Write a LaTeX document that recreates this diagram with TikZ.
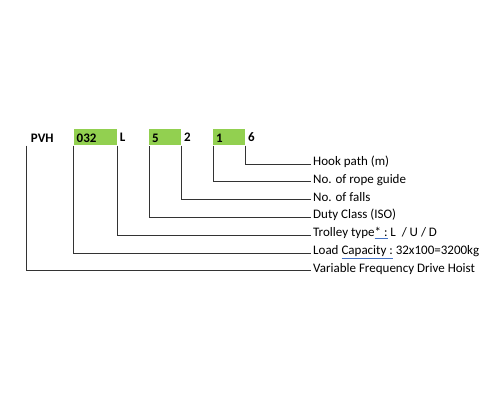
\documentclass[tikz,border=0pt]{standalone}
\usepackage{fontspec}
\setmainfont{Carlito}
\usetikzlibrary{positioning}
\definecolor{boxgreen}{RGB}{146,208,80}
\definecolor{markblue}{RGB}{68,114,196}
\newcommand{\wordmark}[1]{{\color{markblue}\underline{\color{black}#1}}}

\begin{document}
\begin{tikzpicture}[x=1pt, y=1pt, font=\fontsize{13}{15}\selectfont,
	codebox/.style={fill=boxgreen, anchor=south west, align=left, font=\fontsize{13}{15}\selectfont\bfseries,
		inner xsep=3pt, inner ysep=0pt, text height=12.8pt, text depth=3.2pt},
	codetxt/.style={anchor=base west, font=\fontsize{13}{15}\selectfont\bfseries,
		inner xsep=4pt, inner ysep=3.2pt, text depth=0pt},
	desc/.style={anchor=base west, inner xsep=2pt},
	leader/.style={line width=0.9pt, black!80}]
	\useasboundingbox (0,0) rectangle (495,400);
	% code letters
	\node[codetxt] (pvh) at (26.7,257.7) {PVH};
	\node[codebox, text width=37.2pt] (cap) at (73.5,254.5) {032};
	\node[codetxt, right=0pt of cap.east, anchor=west, inner xsep=2.6pt] (trl) {L};
	\node[codebox, text width=26pt] (dty) at (149,254.5) {5};
	\node[codetxt, right=0pt of dty.east, anchor=west, inner xsep=2.6pt] (fal) {2};
	\node[codebox, text width=26pt] (rop) at (213,254.5) {1};
	\node[codetxt, right=0pt of rop.east, anchor=west, inner xsep=2.6pt] (hok) {6};
	% meanings
	\node[desc] (dhok) at (311,234.5) {Hook path (m)};
	\node[desc] (drop) at (311,216.7) {No. of rope guide};
	\node[desc] (dfal) at (311,198.9) {No. of falls};
	\node[desc] (ddty) at (311,181.1) {Duty Class (ISO)};
	\node[desc] (dtrl) at (311,163.3) {Trolley type\wordmark{* :} L~ / U / D};
	\node[desc] (dcap) at (311,145.5) {Load \wordmark{Capacity :} 32x100=3200kg};
	\node[desc] (dpvh) at (311,127.7) {Variable Frequency Drive Hoist};
	% leaders
	\draw[leader] (rop.south east) |- ([yshift=1.5pt]dhok.base west);
	\draw[leader] (rop.south west) |- ([yshift=1.5pt]drop.base west);
	\draw[leader] (dty.south east) |- ([yshift=1.5pt]dfal.base west);
	\draw[leader] (dty.south west) |- ([yshift=1.5pt]ddty.base west);
	\draw[leader] (cap.south east) |- ([yshift=1.5pt]dtrl.base west);
	\draw[leader] (cap.south west) |- ([yshift=1.5pt]dcap.base west);
	\draw[leader] (pvh.south west) |- ([yshift=1.5pt]dpvh.base west);
\end{tikzpicture}
\end{document}
